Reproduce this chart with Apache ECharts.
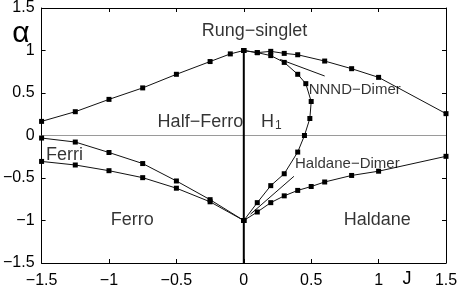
<!DOCTYPE html>
<html>
<head>
<meta charset="utf-8">
<script src="https://cdn.jsdelivr.net/npm/echarts@6/dist/echarts.min.js"></script>
<style>html,body{margin:0;padding:0;background:#fff}#c{width:463px;height:290px}</style>
</head>
<body>
<div id="c"></div>
<script>
// ---- data ----
var axisTicks = [-1.5, -1, -0.5, 0, 0.5, 1, 1.5];

var upperLeftJ = [-1.5, -1.25, -1, -0.75, -0.5, -0.25, -0.1, 0];
var upperLeftA = [0.166, 0.28, 0.425, 0.56, 0.72, 0.87, 0.96, 1.0];

var upperRightJ = [0, 0.1, 0.2, 0.3, 0.4, 0.6, 0.8, 1.0, 1.5];
var upperRightA = [1.0, 0.975, 0.99, 0.966, 0.95, 0.876, 0.786, 0.684, 0.257];

var h1J = [0, 0.1, 0.2, 0.3, 0.4, 0.46, 0.5, 0.49, 0.45, 0.4, 0.3, 0.2, 0.1, 0];
var h1A = [1.0, 0.975, 0.94, 0.86, 0.72, 0.61, 0.40, 0.20, 0.0, -0.195, -0.45, -0.59, -0.79, -1.0];

var ferriUpJ = [-1.5, -1.25, -1, -0.75, -0.5, -0.25, 0];
var ferriUpA = [-0.03, -0.077, -0.2, -0.33, -0.535, -0.755, -1.0];

var ferriLowJ = [-1.5, -1.25, -1, -0.75, -0.5, -0.25, 0];
var ferriLowA = [-0.305, -0.347, -0.414, -0.496, -0.62, -0.78, -1.0];

var haldaneJ = [0, 0.1, 0.2, 0.3, 0.4, 0.5, 0.6, 0.8, 1.0, 1.5];
var haldaneA = [-1.0, -0.9, -0.79, -0.71, -0.646, -0.6, -0.547, -0.47, -0.42, -0.245];

var nnndLineJ = [0.27, 0.6];
var nnndLineA = [0.895, 0.70];

var hdLineJ = [0.05, 0.372];
var hdLineA = [-0.925, -0.48];

var zeroLineJ = [-1.5, 1.5];
var zeroLineA = [0, 0];

var axisLineJ = [0, 0];
var axisLineA = [-1.5, 1.0];

var regionNames = ['Rung−singlet', 'Half−Ferro', 'H1', 'NNND−Dimer', 'Haldane−Dimer', 'Haldane', 'Ferro', 'Ferri'];
var regionJ = [0.08, -0.322, 0.205, 0.823, 0.768, 0.99, -0.827, -1.33];
var regionA = [1.23, 0.162, 0.16, 0.54, -0.33, -1.0, -1.0, -0.226];

// ---- build ----
function pts(xs, ys) { return xs.map(function (x, i) { return [x, ys[i]]; }); }
var FONT = 'Liberation Sans';
var labelSizes = { 'NNND−Dimer': 15, 'Haldane−Dimer': 15 };

function curve(xs, ys) {
  return {
    type: 'line', data: pts(xs, ys), symbol: 'rect', symbolSize: 5,
    itemStyle: { color: '#000' }, lineStyle: { color: '#111', width: 1 },
    animation: false, z: 3
  };
}
function plain(xs, ys, color, width, z) {
  return {
    type: 'line', data: pts(xs, ys), symbol: 'none',
    lineStyle: { color: color, width: width }, animation: false, z: z
  };
}

var labelData = regionNames.map(function (n, i) {
  var d = { name: n, value: [regionJ[i], regionA[i]] };
  if (n === 'H1') {
    d.label = { formatter: '{h|H}{s|1}' };
  } else {
    d.label = { fontSize: labelSizes[n] || 18 };
  }
  return d;
});

var fmt = function (v) { return String(v).replace('-', '−'); };
var baseX = {
  type: 'value', min: -1.5, max: 1.5, interval: 0.5,
  axisLine: { show: true, onZero: false, lineStyle: { color: '#000', width: 1 } },
  axisTick: { show: true, inside: true, length: 4, lineStyle: { color: '#000' } },
  splitLine: { show: false }
};
var chart = echarts.init(document.getElementById('c'), null, { renderer: 'canvas' });
chart.setOption({
  animation: false,
  grid: { left: 36, right: 17, top: 8, bottom: 27 },
  xAxis: [
    Object.assign({}, baseX, { position: 'bottom',
      axisLabel: { formatter: fmt, fontFamily: FONT, fontSize: 16, color: '#000', margin: 10 } }),
    Object.assign({}, baseX, { position: 'top', axisLabel: { show: false } })
  ],
  yAxis: [
    Object.assign({}, baseX, { position: 'left',
      axisLabel: { formatter: fmt, fontFamily: FONT, fontSize: 16, color: '#000', margin: 7 } }),
    Object.assign({}, baseX, { position: 'right', axisLabel: { show: false } })
  ],
  graphic: [
    { type: 'text', x: 21, y: 34, style: { text: 'α', font: '30px ' + FONT, fill: '#000', textAlign: 'center', textVerticalAlign: 'middle' } },
    { type: 'text', x: 407, y: 279, style: { text: 'J', font: '18px ' + FONT, fill: '#000', textAlign: 'center', textVerticalAlign: 'middle' } }
  ],
  series: [
    plain(zeroLineJ, zeroLineA, '#9a9a9a', 1, 1),
    plain(axisLineJ, axisLineA, '#000', 2, 2),
    curve(upperLeftJ, upperLeftA),
    curve(upperRightJ, upperRightA),
    curve(h1J, h1A),
    curve(ferriUpJ, ferriUpA),
    curve(ferriLowJ, ferriLowA),
    curve(haldaneJ, haldaneA),
    plain(nnndLineJ, nnndLineA, '#111', 1, 3),
    plain(hdLineJ, hdLineA, '#111', 1, 3),
    {
      type: 'scatter', data: labelData, symbolSize: 0, animation: false, z: 5,
      label: {
        show: true, position: 'inside', color: '#000', fontFamily: FONT, fontSize: 18,
        formatter: function (p) { return p.name; },
        rich: {
          h: { fontFamily: FONT, fontSize: 18, color: '#000' },
          s: { fontFamily: FONT, fontSize: 12, color: '#000', padding: [8, 0, 0, 1] }
        }
      }
    }
  ]
});
</script>
</body>
</html>
